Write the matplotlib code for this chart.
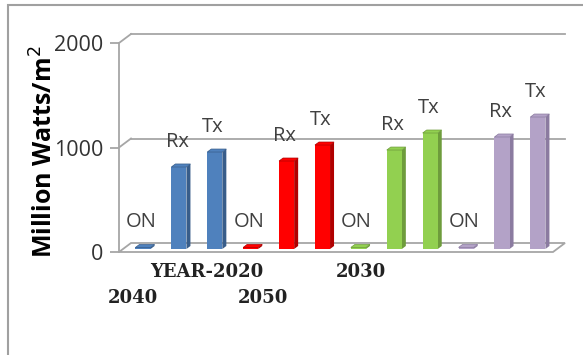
import numpy as np
import matplotlib
matplotlib.use("Agg")
import matplotlib.pyplot as plt
from matplotlib.patches import Polygon, Rectangle

# data (Million Watts/m^2)
bar_labels = ["ON", "Rx", "Tx"] * 4
years = ["YEAR-2020", "2030", "2040", "2050"]
on_vals = [15, 15, 15, 15]
rx_vals = [785, 842, 947, 1072]
tx_vals = [928, 995, 1110, 1263]
y_ticks = [0, 1000, 2000]

front_cols = ["#4F81BD", "#FF0000", "#92D050", "#B3A2C7"]
side_cols = ["#385D8A", "#B00000", "#6E9C3C", "#8B7BA0"]
grid_col = "#A6A6A6"

W, H = 583, 355
fig = plt.figure(figsize=(W / 100, H / 100), dpi=100)

# front plane of the plot area, in pixels
px_left, px_right, px_bottom, px_top = 119, 553, 252, 43
ax = fig.add_axes([px_left / W, 1 - px_bottom / H,
                   (px_right - px_left) / W, (px_bottom - px_top) / H])

step = 35.9                      # px per bar slot
x0 = 143                         # px of first bar centre
xlim = ((px_left - x0) / step, (px_right - x0) / step)
ylim = (0, 2000)
ax.set_xlim(*xlim)
ax.set_ylim(*ylim)
ppu = (px_bottom - px_top) / 2000.0   # px per unit

# depth offsets of the back wall and of one bar
dx, dy = 12 / step, 9 / ppu
bdx, bdy = 4 / step, 3 / ppu
base = 3 / ppu
w = 0.42

# walls and floor
for v in y_ticks[1:]:
    ax.plot([xlim[0] + dx, xlim[1] + dx], [v + dy, v + dy], color=grid_col,
            lw=1.3, clip_on=False, zorder=1)
    ax.plot([xlim[0], xlim[0] + dx], [v, v + dy], color=grid_col,
            lw=1.3, clip_on=False, zorder=1)
floor = Polygon([(xlim[0], 0), (xlim[1], 0), (xlim[1] + dx, dy),
                 (xlim[0] + dx, dy)], closed=True, fc="white",
                ec=grid_col, lw=1.3, clip_on=False, zorder=1)
ax.add_patch(floor)

# bars
values = []
for a, b, c in zip(on_vals, rx_vals, tx_vals):
    values += [a, b, c]
colors = [front_cols[i // 3] for i in range(12)]
sides = [side_cols[i // 3] for i in range(12)]
xs = np.arange(12)

ax.bar(xs, values, width=w, bottom=base, color=colors, zorder=3)
for x, v, sc, fc in zip(xs, values, sides, colors):
    r = x + w / 2
    l = x - w / 2
    top = base + v
    ax.add_patch(Polygon([(r, base), (r + bdx, base + bdy),
                          (r + bdx, top + bdy), (r, top)],
                         closed=True, fc=sc, ec="none", zorder=2))
    ax.add_patch(Polygon([(l, top), (r, top), (r + bdx, top + bdy),
                          (l + bdx, top + bdy)],
                         closed=True, fc=fc, ec=sc, lw=0.5, zorder=4,
                         clip_on=False))

for x, v, lab in zip(xs, values, bar_labels):
    ax.text(x - 0.05, base + v + 25 / ppu, lab, ha="center", va="center",
            fontsize=14.5, family="Open Sans", color="#404040",
            clip_on=False)

# axes styling
for s in ["top", "right", "bottom"]:
    ax.spines[s].set_visible(False)
ax.spines["left"].set_color(grid_col)
ax.spines["left"].set_linewidth(1.3)
ax.set_xticks([])
ax.set_yticks(y_ticks)
ax.set_yticklabels([str(t) for t in y_ticks])
ax.tick_params(axis="y", length=6.5, width=1.3, color=grid_col, pad=5,
               labelsize=15.5, labelcolor="#333333")
for t in ax.get_yticklabels():
    t.set_family("Open Sans")
ax.patch.set_alpha(0)

fig.text(45 / W, 1 - 152 / H, "Million Watts/m$^2$", rotation=90,
         ha="center", va="center", fontsize=18, fontweight="bold",
         family="Open Sans", color="black", zorder=5)

# category labels, staggered like the source
cat_pos = [(150, 272), (336, 272), (108, 298), (238, 298)]
for name, (px, py) in zip(years, cat_pos):
    fig.text(px / W, 1 - py / H, name, ha="left", va="center",
             fontsize=13, fontweight="bold", family="DejaVu Serif",
             color="#222222")

# chart border (runs off the right and bottom edges)
fig.patches.append(Rectangle((8 / W, -0.2), 1.5, 1 - 5 / H + 0.2,
                             transform=fig.transFigure, fill=False,
                             ec="#A0A0A0", lw=1.5))

fig.savefig("out.png", dpi=100)
